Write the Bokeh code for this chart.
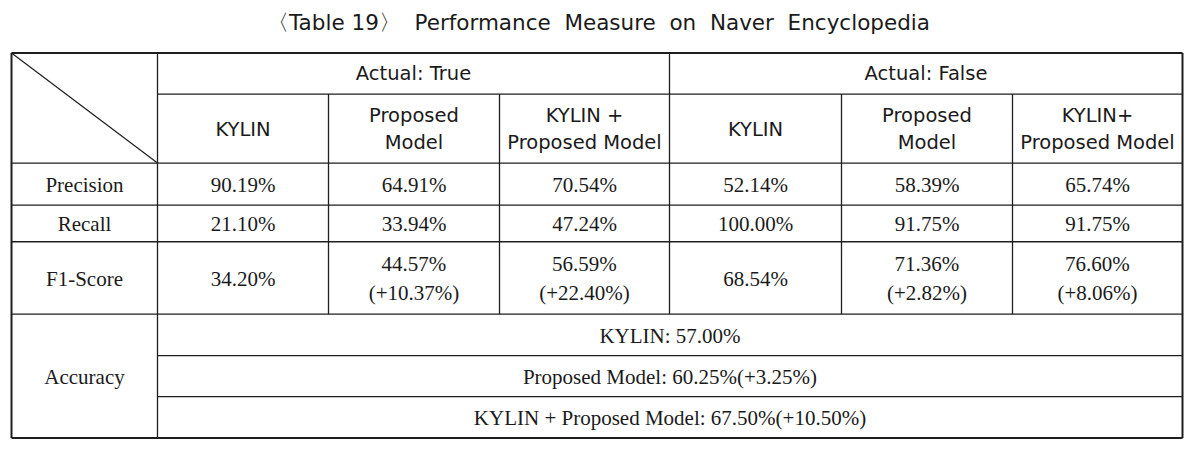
from bokeh.plotting import figure
from bokeh.models import Range1d
from bokeh.core.properties import value
from bokeh.embed import file_html
from bokeh.resources import INLINE

# ---------------- data ----------------
title = "〈Table 19〉 \u00a0Performance \u00a0Measure \u00a0on \u00a0Naver \u00a0Encyclopedia"
groups = ["Actual: True", "Actual: False"]
models = ["KYLIN", "Proposed\nModel", "KYLIN +\nProposed Model",
          "KYLIN", "Proposed\nModel", "KYLIN+\nProposed Model"]
metrics = ["Precision", "Recall", "F1-Score"]
precision = ["90.19%", "64.91%", "70.54%", "52.14%", "58.39%", "65.74%"]
recall = ["21.10%", "33.94%", "47.24%", "100.00%", "91.75%", "91.75%"]
f1_score = ["34.20%", "44.57%\n(+10.37%)", "56.59%\n(+22.40%)",
            "68.54%", "71.36%\n(+2.82%)", "76.60%\n(+8.06%)"]
accuracy_label = "Accuracy"
accuracy = ["KYLIN: 57.00%", "Proposed Model: 60.25%(+3.25%)",
            "KYLIN + Proposed Model: 67.50%(+10.50%)"]

# ---------------- layout (pixel grid of the table) ----------------
xs = [11, 157, 328, 499, 669, 841, 1012, 1182]
ys = [54.5, 97, 168.5, 212, 250, 325, 368, 410.5, 453.5]

W, H = 1186, 441
p = figure(width=W, height=H, output_backend="svg", toolbar_location=None,
           x_range=Range1d(0, W), y_range=Range1d(457, 0),
           min_border=0, outline_line_color=None)
p.axis.visible = False
p.grid.visible = False
p.background_fill_color = "white"
p.border_fill_color = "white"

LC = "#1e1e1e"
# inner lines
hx0, hx1, hy = [], [], []
for y, x0 in [(ys[1], xs[1]), (ys[2], xs[0]), (ys[3], xs[0]), (ys[4], xs[0]),
              (ys[5], xs[0]), (ys[6], xs[1]), (ys[7], xs[1])]:
    hx0.append(x0); hx1.append(xs[-1]); hy.append(y)
p.segment(x0=hx0, y0=hy, x1=hx1, y1=hy, line_color=LC, line_width=1.3)
vx, vy0, vy1 = [], [], []
vx.append(xs[1]); vy0.append(ys[0]); vy1.append(ys[-1])
vx.append(xs[4]); vy0.append(ys[0]); vy1.append(ys[5])
for x in [xs[2], xs[3], xs[5], xs[6]]:
    vx.append(x); vy0.append(ys[1]); vy1.append(ys[5])
p.segment(x0=vx, y0=vy0, x1=vx, y1=vy1, line_color=LC, line_width=1.3)
# diagonal
p.segment(x0=[xs[0]], y0=[ys[0]], x1=[xs[1]], y1=[ys[2]], line_color=LC, line_width=1.2)
# outer border
p.segment(x0=[xs[0], xs[0], xs[0], xs[-1]], y0=[ys[0], ys[-1], ys[0], ys[0]],
          x1=[xs[-1], xs[-1], xs[0], xs[-1]], y1=[ys[0], ys[-1], ys[-1], ys[-1]],
          line_color=LC, line_width=2)

TC = "#1a1a1a"
SANS = value("DejaVu Sans")
SERIF = value("Liberation Serif")

def txt(x, y, t, font, size, lh=1.2):
    p.text(x=x, y=y, text=t, text_font=font, text_font_size=size,
           text_align="center", text_baseline="middle", text_color=TC,
           text_line_height=lh)

# title
txt([598], [23], [title], SANS, "21.5px")
# group headers
gx = [(xs[1] + xs[4]) / 2, (xs[4] + xs[-1]) / 2]
txt(gx, [(ys[0] + ys[1]) / 2] * 2, groups, SANS, "19.5px")
# model headers
cx = [(xs[i] + xs[i + 1]) / 2 for i in range(1, 7)]
txt(cx, [(ys[1] + ys[2]) / 2 + 0.5] * 6, models, SANS, "19.5px", 1.17)
# row labels
rx = (xs[0] + xs[1]) / 2
ry = [(ys[i] + ys[i + 1]) / 2 + 1 for i in range(2, 5)]
txt([rx] * 3, ry, metrics, SERIF, "21px")
# values
for r, vals in zip(ry, [precision, recall, f1_score]):
    txt(cx, [r] * 6, vals, SERIF, "21px", 1.2)
# accuracy
txt([rx], [(ys[5] + ys[-1]) / 2 + 1], [accuracy_label], SERIF, "21px")
ax = (xs[1] + xs[-1]) / 2
txt([ax] * 3, [(ys[i] + ys[i + 1]) / 2 + 1 for i in range(5, 8)], accuracy, SERIF, "21px")

open("out.html", "w").write(file_html(p, INLINE))
